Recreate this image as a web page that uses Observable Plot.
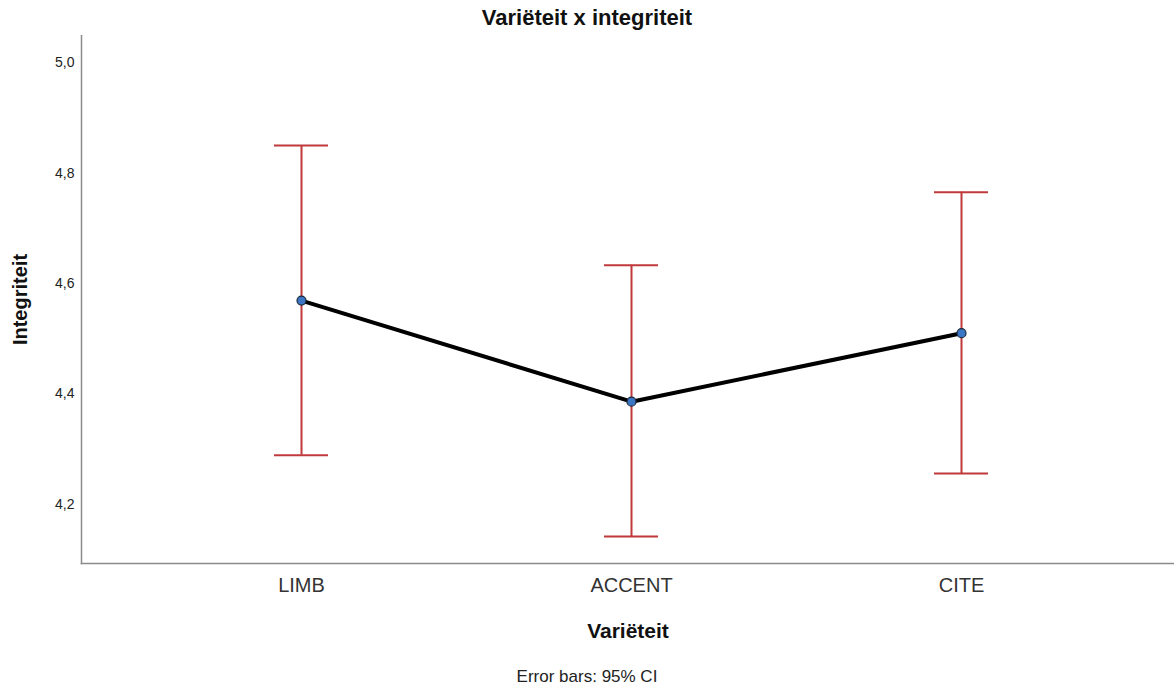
<!DOCTYPE html>
<html>
<head>
<meta charset="utf-8">
<script src="https://cdn.jsdelivr.net/npm/d3@7"></script>
<script src="https://cdn.jsdelivr.net/npm/@observablehq/plot@0.6"></script>
<style>
  body { margin: 0; background: #fff; font-family: "Liberation Sans", Arial, sans-serif; }
  #title { height: 35px; line-height: 35px; text-align: center; font-weight: bold; font-size: 22px; color: #111; }
  #chart svg { display: block; }
  #caption { margin-top: 14px; text-align: center; font-size: 17px; color: #222; }
</style>
</head>
<body>
<div id="title">Variëteit x integriteit</div>
<div id="chart"></div>
<div id="caption">Error bars: 95% CI</div>
<script>
// Mean integrity per variety with 95% confidence intervals
const categories = ["LIMB", "ACCENT", "CITE"];
const means = [4.569, 4.386, 4.510];
const lower = [4.289, 4.142, 4.256];
const upper = [4.850, 4.633, 4.765];
const yTicks = [4.2, 4.4, 4.6, 4.8, 5.0];

const data = categories.map((c, i) => ({cat: c, mean: means[i], lo: lower[i], hi: upper[i]}));
const red = "#c0393b";
const comma = d => d.toFixed(1).replace(".", ",");

const chart = Plot.plot({
  width: 1174,
  height: 618,
  marginTop: 0,
  marginLeft: 81,
  marginRight: 0,
  marginBottom: 90,
  style: {fontFamily: "Liberation Sans, Arial, sans-serif", color: "#222", background: "#fff"},
  // band width doubles as the width of the error bar caps
  x: {type: "band", domain: categories, paddingInner: 0.8364, paddingOuter: 0.5848, insetRight: -7},
  y: {domain: [4.093, 5.049]},
  marks: [
    Plot.frame({anchor: "left", stroke: "#8a8a8a", strokeWidth: 1.5}),
    Plot.frame({anchor: "bottom", stroke: "#8a8a8a", strokeWidth: 1.5}),
    Plot.axisY(yTicks, {tickSize: 0, tickPadding: 7, tickFormat: comma, fontSize: 14, label: null}),
    Plot.axisX({tickSize: 0, tickPadding: 14, fontSize: 20, fill: "#333", label: null}),
    Plot.text(["Integriteit"], {frameAnchor: "left", textAnchor: "middle", rotate: -90, dx: -61, fontSize: 20, fontWeight: "bold", fill: "#111"}),
    Plot.text(["Variëteit"], {frameAnchor: "bottom", dy: 74, fontSize: 21, fontWeight: "bold", fill: "#111"}),
    Plot.ruleX(data, {x: "cat", y1: "lo", y2: "hi", stroke: red, strokeWidth: 2}),
    Plot.tickY(data, {x: "cat", y: "lo", stroke: red, strokeWidth: 2}),
    Plot.tickY(data, {x: "cat", y: "hi", stroke: red, strokeWidth: 2}),
    Plot.line(data, {x: "cat", y: "mean", stroke: "#000", strokeWidth: 4}),
    Plot.dot(data, {x: "cat", y: "mean", r: 4.5, fill: "#3a76c4", stroke: "#1b2a3c", strokeWidth: 1.2})
  ]
});
document.getElementById("chart").appendChild(chart);
</script>
</body>
</html>
